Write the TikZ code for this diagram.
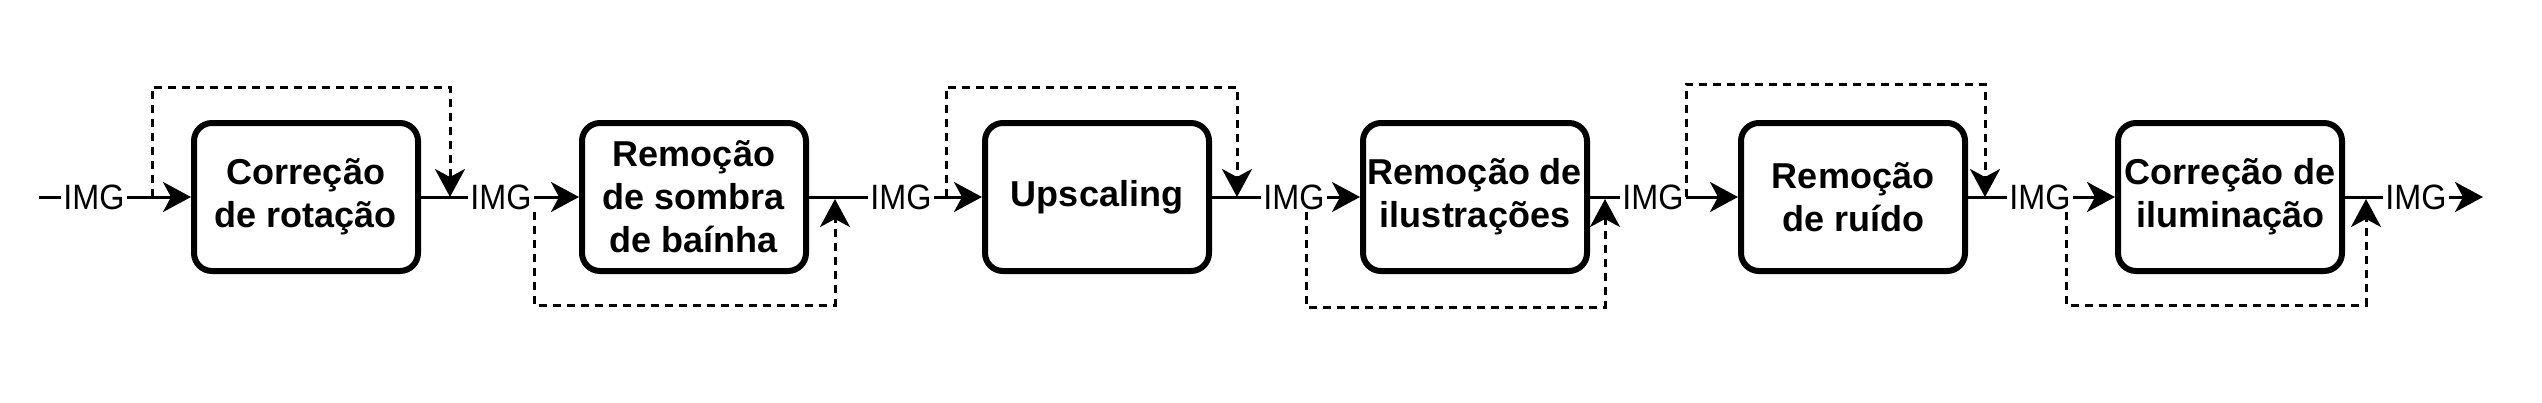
\documentclass[tikz,border=0pt]{standalone}
\usepackage{fontspec}
\setmainfont{Liberation Sans}
\newfontfamily\imgfont{Liberation Sans}[FakeStretch=0.92]
\usetikzlibrary{arrows.meta}
\begin{document}
\begin{tikzpicture}[x=0.5pt,y=-0.5pt,
  stage/.style={draw, line width=3pt, rounded corners=9pt, minimum width=112pt, minimum height=74pt, inner sep=2pt, align=center, font=\bfseries\fontsize{18}{21.5}\selectfont},
  imglabel/.style={inner xsep=1pt, inner ysep=0pt, font=\imgfont\fontsize{17.6}{20}\selectfont},
  tip/.style={-{Stealth[length=14pt,width=15pt,inset=4pt]}},
  flow/.style={line width=1.5pt},
  loopline/.style={line width=1.5pt, dash pattern=on 4pt off 3pt}]
\useasboundingbox (0,0) rectangle (2542,402);
% stages
\node[stage] (b1) at (306,197) {Correção\\de rotação};
\node[stage] (b2) at (694,197) {Remoção\\de sombra\\de baínha};
\node[stage] (b3) at (1097,197) {Upscaling};
\node[stage] (b4) at (1475,197) {Remoção de\\ilustrações};
\node[stage] (b5) at (1853,197) {Remoção\\de ruído};
\node[stage] (b6) at (2230,197) {Correção de\\iluminação};
% labels
\node[imglabel] (i0) at (94,197) {IMG};
\node[imglabel] (i1) at (501,197) {IMG};
\node[imglabel] (i2) at (901,197) {IMG};
\node[imglabel] (i3) at (1294,197) {IMG};
\node[imglabel] (i4) at (1653,197) {IMG};
\node[imglabel] (i5) at (2040,197) {IMG};
\node[imglabel] (i6) at (2416,197) {IMG};
\coordinate (in) at (39,197);
\coordinate (out) at (2483,197);
% main flow
\draw[flow] (in) -- (i0);
\draw[flow,tip] (i0) -- (b1);
\draw[flow] (b1) -- (i1);
\draw[flow,tip] (i1) -- (b2);
\draw[flow] (b2) -- (i2);
\draw[flow,tip] (i2) -- (b3);
\draw[flow] (b3) -- (i3);
\draw[flow,tip] (i3) -- (b4);
\draw[flow] (b4) -- (i4);
\draw[flow,tip] (i4) -- (b5);
\draw[flow] (b5) -- (i5);
\draw[flow,tip] (i5) -- (b6);
\draw[flow] (b6) -- (i6);
\draw[flow,tip] (i6) -- (out);
% bypass loops
\coordinate (la0) at (152,197);  \coordinate (la1) at (450,197);
\coordinate (lb0) at (534,212);  \coordinate (lb1) at (835,199);
\coordinate (lc0) at (946,197);  \coordinate (lc1) at (1237,197);
\coordinate (ld0) at (1306,212); \coordinate (ld1) at (1605,199);
\coordinate (le0) at (1686,197); \coordinate (le1) at (1985,197);
\coordinate (lf0) at (2066,212); \coordinate (lf1) at (2366,199);
\draw[loopline,tip] (la0) -- (152,87) -| (la1);
\draw[loopline,tip] (lb0) -- (534,305) -| (lb1);
\draw[loopline,tip] (lc0) -- (946,87) -| (lc1);
\draw[loopline,tip] (ld0) -- (1306,307) -| (ld1);
\draw[loopline,tip] (le0) -- (1686,84) -| (le1);
\draw[loopline,tip] (lf0) -- (2066,305) -| (lf1);
\end{tikzpicture}
\end{document}
